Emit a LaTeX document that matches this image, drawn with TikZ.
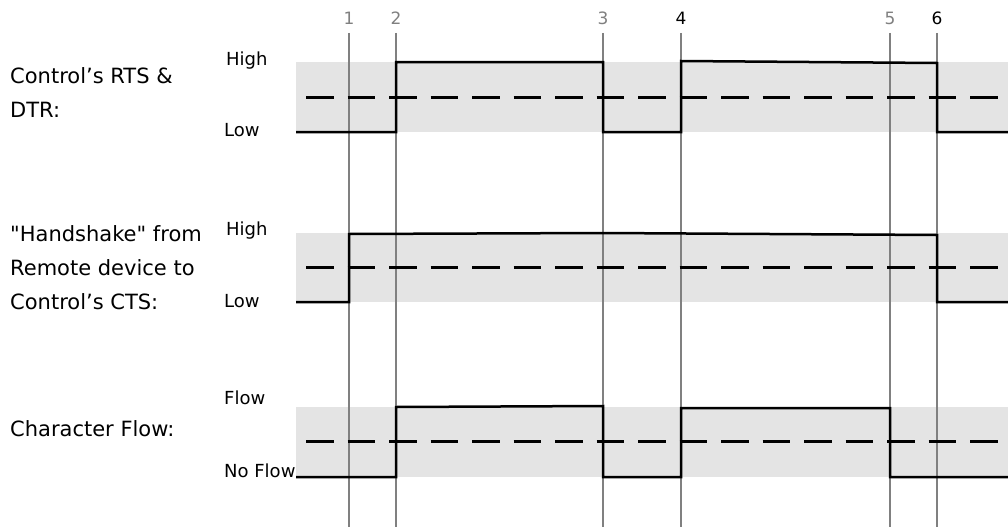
\documentclass[tikz,border=0pt]{standalone}
\usepackage{fontspec}
\setmainfont{DejaVu Sans}[Ligatures=TeXOff]
\definecolor{band}{HTML}{E4E4E4}
\definecolor{tick}{HTML}{808080}

\begin{document}
\begin{tikzpicture}[x=1pt,y=-1pt,
	lbl/.style={anchor=base west,inner sep=0pt,align=left,font=\fontsize{21}{34}\selectfont},
	lvl/.style={anchor=base west,inner sep=0pt,font=\fontsize{18}{20}\selectfont},
	num/.style={anchor=base,inner sep=0pt,font=\fontsize{17}{18}\selectfont},
	timeline/.style={draw=tick,line width=1.2pt},
	sig/.style={line width=2.5pt,line join=miter},
	mid/.style={line width=3pt,dash pattern=on 27.5pt off 14pt}]
			\useasboundingbox (0,0) rectangle (1008,527);
			\fill[band] (296,62) rectangle (1008,132);
			\fill[band] (296,233) rectangle (1008,302);
			\fill[band] (296,407) rectangle (1008,477);

			\node[num,text=tick] (t1) at (349,25) {1};
			\node[num,text=tick] (t2) at (396,25) {2};
			\node[num,text=tick] (t3) at (603,25) {3};
			\node[num] (t4) at (681,25) {4};
			\node[num,text=tick] (t5) at (890,25) {5};
			\node[num] (t6) at (937,25) {6};
			\draw[timeline] (349,33) -- (349,527);
			\draw[timeline] (396,33) -- (396,527);
			\draw[timeline] (603,33) -- (603,527);
			\draw[timeline] (681,33) -- (681,527);
			\draw[timeline] (890,33) -- (890,527);
			\draw[timeline] (937,33) -- (937,527);

			\draw[mid] (306,97) -- (998,97);
			\draw[mid] (306,267) -- (998,267);
			\draw[mid] (306,441) -- (998,441);

			\draw[sig] (296,132) -- (396,132) -- (396,62) -- (603,62) -- (603,132) -- (681,132) -- (681,61) -- (937,63) -- (937,132) -- (1008,132);
			\draw[sig] (296,302) -- (349,302) -- (349,234) -- (603,233) -- (937,235) -- (937,302) -- (1008,302);
			\draw[sig] (296,477) -- (396,477) -- (396,407) -- (603,406) -- (603,477) -- (681,477) -- (681,408) -- (890,408) -- (890,477) -- (1008,477);

			\node[lbl] (rts) at (10,117) {Control’s RTS \&\\DTR:};
			\node[lbl] (cts) at (10,309) {"Handshake" from\\Remote device to\\Control’s CTS:};
			\node[lbl] (chars) at (10,436) {Character Flow:};
			\node[lvl] (rtshigh) at (226,65) {High};
			\node[lvl] (rtslow) at (224,136) {Low};
			\node[lvl] (ctshigh) at (226,235) {High};
			\node[lvl] (ctslow) at (224,307) {Low};
			\node[lvl] (flowon) at (224,404) {Flow};
			\node[lvl] (flowoff) at (224,477) {No Flow};
	\end{tikzpicture}
\end{document}
